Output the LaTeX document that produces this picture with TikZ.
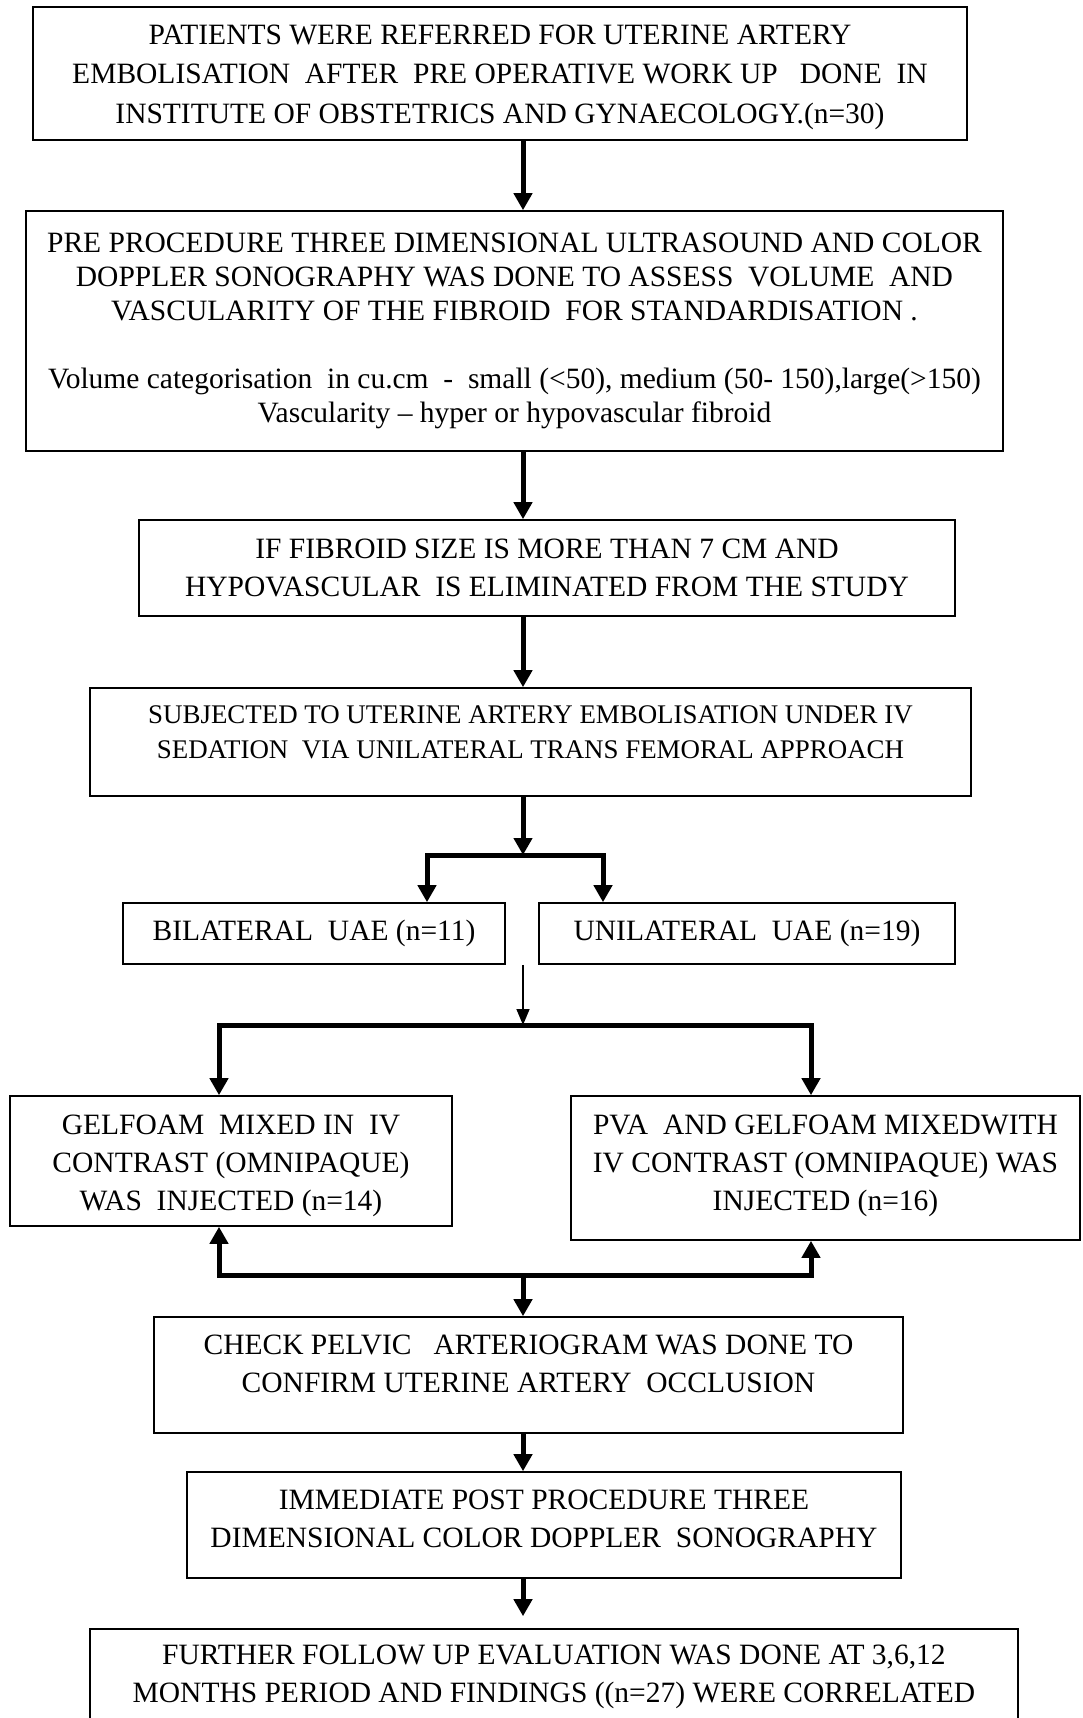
\documentclass[tikz,border=0pt]{standalone}
\usepackage{fontspec}
\setmainfont{Liberation Serif}
\usetikzlibrary{arrows.meta}
\newcommand\bodyfont{\fontsize{14.75pt}{19pt}\selectfont}
\newcommand\smallbody{\fontsize{13.45pt}{17.5pt}\selectfont}
\newcommand\liftgap[1]{\\[#1]\mbox{}}
\newcommand\dropgap[1]{\mbox{}\\[#1]}
\begin{document}
\begin{tikzpicture}[
  x=0.5pt, y=-0.5pt,
  box/.style={draw, line width=0.8pt, align=center, inner sep=0pt, font=\bodyfont},
  arr/.style={line width=2.5pt, -{Triangle[width=9pt,length=8.5pt]}},
  twoway/.style={line width=2.5pt, {Triangle[width=9pt,length=8.5pt]}-{Triangle[width=9pt,length=8.5pt]}},
  thinarr/.style={line width=0.8pt, -{Triangle[width=6.5pt,length=8pt]}}
]
\useasboundingbox (0,0) rectangle (1082,1718);

\node[box, minimum width=467pt, minimum height=66.5pt] (b1) at (500,73.5)
  {\dropgap{-5.5pt}PATIENTS WERE REFERRED FOR UTERINE ARTERY\\[0.8pt]
   EMBOLISATION\ \ AFTER\ \ PRE OPERATIVE WORK UP\ \ \ DONE\ \ IN\\[0.8pt]
   INSTITUTE OF OBSTETRICS AND GYNAECOLOGY.(n=30)};
\node[box, minimum width=488.5pt, minimum height=120pt] (b2) at (514.5,331)
  {PRE PROCEDURE THREE DIMENSIONAL ULTRASOUND AND COLOR\\[-2pt]
   DOPPLER SONOGRAPHY WAS DONE TO ASSESS\ \ VOLUME\ \ AND\\[-2pt]
   VASCULARITY OF THE FIBROID\ \ FOR STANDARDISATION .\\[15pt]
   Volume categorisation\ \ in cu.cm\ \ -\ \ small (<50), medium (50- 150),large(>150)\\[-2pt]
   Vascularity -- hyper or hypovascular fibroid};
\node[box, minimum width=408pt, minimum height=48pt] (b3) at (547,568)
  {IF FIBROID SIZE IS MORE THAN 7 CM AND\\
   HYPOVASCULAR\ \ IS ELIMINATED FROM THE STUDY};
\node[box, minimum width=440.5pt, minimum height=54pt, font=\smallbody] (b4) at (530.5,742)
  {SUBJECTED TO UTERINE ARTERY EMBOLISATION UNDER IV\\
   SEDATION\ \ VIA UNILATERAL TRANS FEMORAL APPROACH\liftgap{-8pt}};
\node[box, minimum width=191pt, minimum height=30.5pt] (b5a) at (314,933.5)
  {BILATERAL\ \ UAE (n=11)};
\node[box, minimum width=208pt, minimum height=30.5pt] (b5b) at (747,933.5)
  {UNILATERAL\ \ UAE (n=19)};
\node[box, minimum width=221pt, minimum height=65pt] (b6a) at (231,1161)
  {\dropgap{-4.5pt}GELFOAM\ \ MIXED IN\ \ IV\\
   CONTRAST (OMNIPAQUE)\\
   WAS\ \ INJECTED (n=14)};
\node[box, minimum width=254.5pt, minimum height=72pt] (b6b) at (825.5,1168)
  {PVA\ \ AND GELFOAM MIXEDWITH\\
   IV CONTRAST (OMNIPAQUE) WAS\\
   INJECTED (n=16)\liftgap{-13.5pt}};
\node[box, minimum width=374.5pt, minimum height=58pt] (b7) at (528.5,1375)
  {CHECK PELVIC\ \ \ ARTERIOGRAM WAS DONE TO\\
   CONFIRM UTERINE ARTERY\ \ OCCLUSION\liftgap{-8pt}};
\node[box, minimum width=357pt, minimum height=53pt] (b8) at (544,1525)
  {IMMEDIATE POST PROCEDURE THREE\\
   DIMENSIONAL COLOR DOPPLER\ \ SONOGRAPHY\liftgap{-13pt}};
\node[box, minimum width=464pt, minimum height=47.5pt] (b9) at (554,1676.5)
  {FURTHER FOLLOW UP EVALUATION WAS DONE AT 3,6,12\\
   MONTHS PERIOD AND FINDINGS ((n=27) WERE CORRELATED};

\coordinate (fork1) at (523,855);
\coordinate (fork1l) at (427,855);
\coordinate (fork1r) at (603,855);
\coordinate (fork2) at (523,1025);
\coordinate (fork2l) at (219,1025);
\coordinate (fork2r) at (811,1025);
\coordinate (join) at (523,1275);
\coordinate (joinl) at (219,1275);
\coordinate (joinr) at (811,1275);

\draw[arr] (b1.south -| fork1) -- (b2.north -| fork1);
\draw[arr] (b2.south -| fork1) -- (b3.north -| fork1);
\draw[arr] (b3.south -| fork1) -- (b4.north -| fork1);
\draw[arr] (b4.south -| fork1) -- (fork1);
\draw[twoway] (b5a.north -| fork1l) -- (fork1l) -- (fork1r) -- (b5b.north -| fork1r);
\draw[thinarr] (b5a.south -| fork2) -- (fork2);
\draw[twoway] (b6a.north -| fork2l) -- (fork2l) -- (fork2r) -- (b6b.north -| fork2r);
\draw[twoway] (b6a.south -| joinl) -- (joinl) -- (joinr) -- (b6b.south -| joinr);
\draw[arr] (join) -- (b7.north -| join);
\draw[arr] (b7.south -| join) -- (b8.north -| join);
\draw[arr, shorten >=6pt] (b8.south -| join) -- (b9.north -| join);
\end{tikzpicture}
\end{document}
